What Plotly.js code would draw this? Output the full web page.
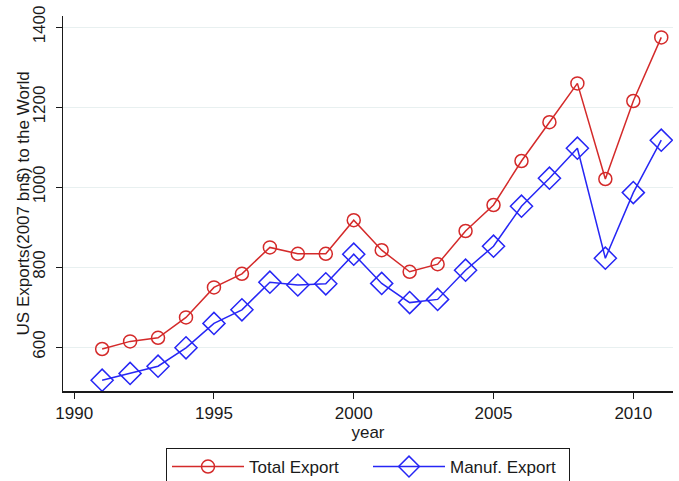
<!DOCTYPE html>
<html>
<head>
<meta charset="utf-8">
<script src="https://cdn.plot.ly/plotly-3.0.1.min.js"></script>
<style>html,body{margin:0;padding:0;background:#fff}#chart{width:679px;height:481px}</style>
</head>
<body>
<div id="chart"></div>
<script>
const years = [1991,1992,1993,1994,1995,1996,1997,1998,1999,2000,2001,2002,2003,2004,2005,2006,2007,2008,2009,2010,2011];
const totalExport = [595,614,623,674,749,783,849,833,833,917,842,788,807,890,955,1065,1162,1259,1020,1215,1374];
const manufExport = [517,534,552,598,659,693,762,755,758,832,759,711,719,792,852,952,1022,1097,822,986,1117];
const xTicks = [1990,1995,2000,2005,2010];
const yTicks = [600,800,1000,1200,1400];
const yTitle = "US Exports(2007 bn$) to the World";

const font = "Liberation Sans, Arial, sans-serif";
const traces = [
  {x: years, y: totalExport, name: "Total Export", type: "scatter", mode: "lines+markers",
   line: {color: "#d42a2a", width: 1.5},
   marker: {symbol: "circle-open", size: 13, color: "#d42a2a", line: {width: 1.5, color: "#d42a2a"}}},
  {x: years, y: manufExport, name: "Manuf. Export", type: "scatter", mode: "lines+markers",
   line: {color: "#2626f5", width: 1.5},
   marker: {symbol: "diamond-open", size: 17, color: "#2626f5", line: {width: 1.5, color: "#2626f5"}}}
];
const layout = {
  width: 679, height: 481,
  margin: {l: 63, r: 6, t: 16, b: 90, autoexpand: false},
  paper_bgcolor: "#fff", plot_bgcolor: "#fff",
  font: {family: font, size: 17, color: "#1a1a1a"},
  showlegend: true,
  legend: {orientation: "h", x: 0.5, xanchor: "center", y: -0.152, yanchor: "top",
           bordercolor: "#1a1a1a", borderwidth: 1, font: {size: 17, family: font},
           itemwidth: 72, entrywidth: 114, tracegroupgap: 0},
  xaxis: {range: [1989.6, 2011.42], tickvals: xTicks, ticks: "outside", ticklen: 6, tickwidth: 1,
          tickcolor: "#1a1a1a", showline: true, linecolor: "#1a1a1a", linewidth: 1.5,
          showgrid: false, zeroline: false, tickfont: {size: 17},
          title: {text: "year", standoff: 0, font: {size: 17, family: font}}},
  yaxis: {range: [490, 1427.5], tickvals: yTicks, ticks: "outside", ticklen: 6, tickwidth: 1,
          tickcolor: "#1a1a1a", showline: true, linecolor: "#1a1a1a", linewidth: 1.5,
          tickangle: -90, showgrid: true, gridcolor: "#e8f0f0", gridwidth: 1, zeroline: false,
          tickfont: {size: 17}, ticklabelstandoff: 4},
  annotations: [{text: yTitle, xref: "paper", yref: "paper", x: -0.064, y: 0.5,
                 xanchor: "center", yanchor: "middle", textangle: -90, showarrow: false,
                 font: {size: 17, family: font, color: "#1a1a1a"}}]
};
Plotly.newPlot("chart", traces, layout, {displayModeBar: false, staticPlot: true});
</script>
</body>
</html>
